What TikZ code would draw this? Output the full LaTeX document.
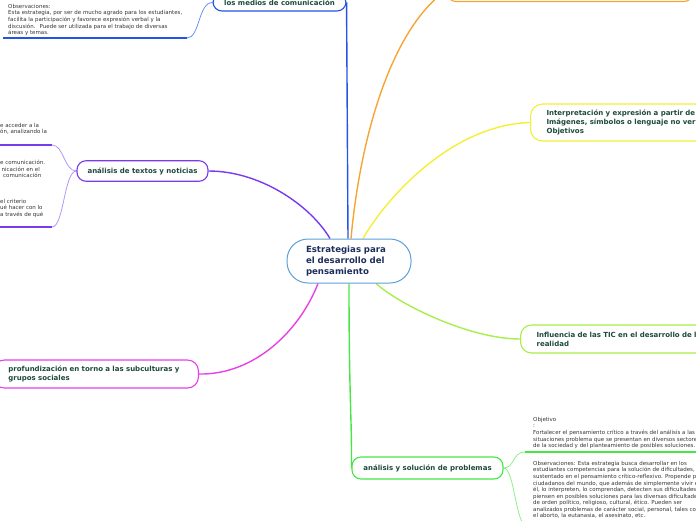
\documentclass[tikz,border=0pt]{standalone}
\usepackage{fontspec}
\setmainfont{DejaVu Sans}
\usetikzlibrary{backgrounds}
\definecolor{cblue}{HTML}{2453E8}
\definecolor{cblueL}{HTML}{6A92F2}
\definecolor{corange}{HTML}{F6A534}
\definecolor{cyellow}{HTML}{F4EF36}
\definecolor{clime}{HTML}{A8EE48}
\definecolor{cgreen}{HTML}{46E646}
\definecolor{cgreenL}{HTML}{8CF08C}
\definecolor{cmag}{HTML}{E640E6}
\definecolor{cpurp}{HTML}{7A3AEE}
\definecolor{cpurpL}{HTML}{B496F4}
\definecolor{cedge}{HTML}{5BA0D8}
\definecolor{ctitle}{HTML}{1E2F5C}
\definecolor{clab}{HTML}{1D4A3C}
\definecolor{ctext}{HTML}{353535}
\begin{document}
\begin{tikzpicture}[x=1pt,y=-1pt,
 topic/.style={draw, fill=white, rounded corners=9pt, line width=1.1pt, inner sep=0pt, font=\fontsize{7}{8.8}\selectfont\bfseries, text=clab, align=left},
 small/.style={inner sep=0pt, align=left, anchor=north west, font=\fontsize{5.5}{6.55}\selectfont, text=ctext},
 branch/.style={line width=1.4pt},
 twig/.style={line width=0.8pt},
 uline/.style={line width=1.5pt}]
\useasboundingbox (0,0) rectangle (696,520);

\node[draw=cedge, fill=white, line width=1pt, rounded corners=21pt, minimum width=124pt, minimum height=44pt, text width=86pt, align=left, inner sep=0pt, font=\fontsize{8.6}{11}\selectfont\bfseries, text=ctitle] (c) at (349,261) {Estrategias para\\el desarrollo del\\pensamiento};

\node[topic, draw=cblue, minimum width=133pt, minimum height=17pt, align=center] (medios) at (279.5,2.5) {los medios de comunicación};
\node[topic, draw=corange, minimum width=246pt, minimum height=23pt] (orange) at (570,-10) {};
\node[topic, draw=cyellow, rounded corners=12pt, anchor=west, text width=180pt, inner xsep=16pt, minimum height=37pt] (interp) at (530,122.5) {Interpretación y expresión a partir de\\Imágenes, símbolos o lenguaje no verbal\\Objetivos};
\node[topic, draw=clime, rounded corners=11pt, anchor=west, text width=180pt, inner xsep=16pt, minimum height=28pt] (tic) at (520,339) {Influencia de las TIC en el desarrollo de la\\realidad};
\node[topic, draw=cgreen, minimum width=151pt, minimum height=22pt, align=center] (probl) at (427.5,468) {análisis y solución de problemas};
\node[topic, draw=cmag, rounded corners=11pt, anchor=east, text width=175pt, inner xsep=15pt, minimum height=28pt] (subcult) at (199,374) {profundización en torno a las subculturas y\\grupos sociales};
\node[topic, draw=cpurp, minimum width=131pt, minimum height=20.5pt, align=center] (textos) at (142.5,171) {análisis de textos y noticias};

\node[small] (obsA) at (8,4) {Observaciones:\\Esta estrategia, por ser de mucho agrado para los estudiantes,\\facilita la participación y favorece expresión verbal y la\\discusión.~ Puede ser utilizada para el trabajo de diversas\\áreas y temas.};
\node[small] (tA) at (0,123) {e acceder a la\\ón, analizando la};
\node[small] (tB) at (0,160) {e comunicación.\\\hspace*{1.5pt}nicación en el\\\hspace*{3pt}comunicación};
\node[small] (tC) at (0,199) {el criterio\\ué hacer con lo\\a través de qué};
\node[small] (objt) at (533,417) {Objetivo\\:\\Fortalecer el pensamiento crítico a través del análisis a las\\situaciones problema que se presentan en diversos sectores\\de la sociedad y del planteamiento de posibles soluciones.};
\node[small] (obsB) at (533,461) {Observaciones: Esta estrategia busca desarrollar en los\\estudiantes competencias para la solución de dificultades,\\sustentado en el pensamiento crítico-reflexivo. Propende por\\ciudadanos del mundo, que además de simplemente vivir en\\él, lo interpreten, lo comprendan, detecten sus dificultades y\\piensen en posibles soluciones para las diversas dificultades\\de orden político, religioso, cultural, ético. Pueden ser\\analizados problemas de carácter social, personal, tales como\\el aborto, la eutanasia, el asesinato, etc.};

\coordinate (bu) at (187,38); \coordinate (bu0) at (3,38);
\coordinate (pu1) at (52,145); \coordinate (pu0) at (0,145);
\coordinate (pd1) at (52,227); \coordinate (pd0) at (0,227);
\coordinate (gu1) at (525,452); \coordinate (gu0) at (700,452);
\coordinate (gd1) at (528,527); \coordinate (gd0) at (700,527);

\begin{scope}[on background layer]
\draw[branch, cblue] ([xshift=-1pt]c.north) -- (medios.east);
\draw[branch, corange] ([xshift=2pt]c.north) .. controls (360,140) and (390,30) .. (orange.west);
\draw[branch, cyellow] ([xshift=14pt]c.north) .. controls (385,200) and (450,125) .. (interp.west);
\draw[branch, clime] ([xshift=27pt]c.south) .. controls (400,305) and (470,339) .. (tic.west);
\draw[branch, cgreen] (c.south) .. controls (349,400) and (352,420) .. (probl.west);
\draw[branch, cmag] ([xshift=-31pt]c.south) .. controls (300,330) and (255,375) .. (subcult.east);
\draw[branch, cpurp] ([xshift=-19pt]c.north) .. controls (310,205) and (260,171) .. (textos.east);

\draw[twig, cblueL] (medios.west) .. controls (198,2.5) and (200,38) .. (bu);
\draw[uline, cblue] (bu) -- (bu0);
\draw[twig, cpurpL] (textos.west) .. controls (64,171) and (64,145) .. (pu1);
\draw[twig, cpurpL] (textos.west) .. controls (64,171) and (64,227) .. (pd1);
\draw[uline, cpurp] (pu1) -- (pu0);
\draw[uline, cpurp] (pd1) -- (pd0);
\draw[twig, cgreenL] (probl.east) .. controls (515,468) and (512,452) .. (gu1);
\draw[twig, cgreenL] (probl.east) .. controls (515,468) and (515,527) .. (gd1);
\draw[uline, cgreen] (gu1) -- (gu0);
\draw[uline, cgreen] (gd1) -- (gd0);
\end{scope}
\end{tikzpicture}
\end{document}
